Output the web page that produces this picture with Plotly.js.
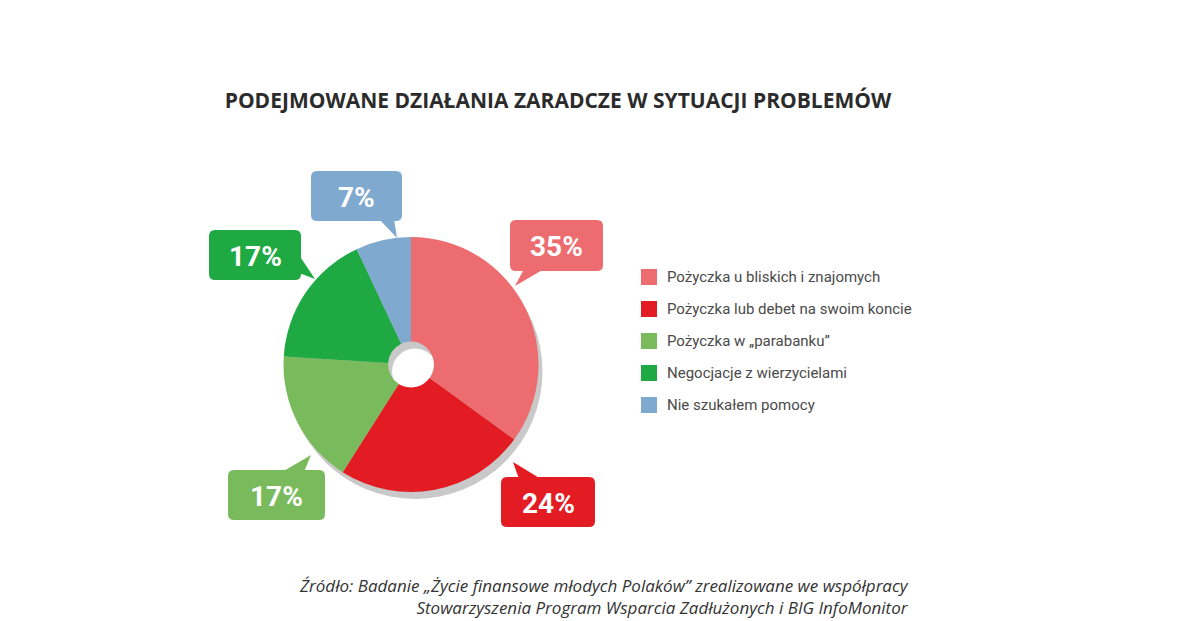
<!DOCTYPE html>
<html>
<head>
<meta charset="utf-8">
<script src="https://cdn.plot.ly/plotly-3.0.1.min.js"></script>
<style>
  html, body { margin: 0; padding: 0; background: #ffffff; }
  #chart { width: 1179px; height: 621px; }
</style>
</head>
<body>
<div id="chart"></div>
<script>
// ---- data ----
const categories = [
  "Pożyczka u bliskich i znajomych",
  "Pożyczka lub debet na swoim koncie",
  "Pożyczka w „parabanku”",
  "Negocjacje z wierzycielami",
  "Nie szukałem pomocy"
];
const shares = [35, 24, 17, 17, 7];
const titleText = "PODEJMOWANE DZIAŁANIA ZARADCZE W SYTUACJI PROBLEMÓW";
const sourceLines = [
  "Źródło: Badanie „Życie finansowe młodych Polaków” zrealizowane we współpracy",
  "Stowarzyszenia Program Wsparcia Zadłużonych i BIG InfoMonitor"
];

// ---- style ----
const colors = ["#ec6c6f", "#e31b23", "#79bb5c", "#1fa943", "#80a9d0"];
const W = 1179, H = 621;
const px = x => x / W;
const py = y => 1 - y / H;

// pie geometry (pixels)
const C = {x: 411, y: 364.5, r: 127.5, hole: 0.18};
const shadowOff = {dx: 4, dy: 7};
function dom(cx, cy, r) {
  return {x: [px(cx - r), px(cx + r)], y: [py(cy + r), py(cy - r)]};
}

// callout bubbles (pixel boxes + tails), one per slice
const bubbles = [
  {x0: 510, y0: 220, x1: 603, y1: 271, tail: [[524, 269], [544, 269], [515, 286]]},
  {x0: 501, y0: 477, x1: 595, y1: 527, tail: [[519, 479], [541, 479], [513, 462]]},
  {x0: 228, y0: 470, x1: 325, y1: 520, tail: [[282, 472], [304, 472], [311, 455]]},
  {x0: 209, y0: 230, x1: 301, y1: 280, tail: [[299, 255], [299, 273], [315, 279]]},
  {x0: 311, y0: 171, x1: 402, y1: 221, tail: [[379, 219], [394, 219], [397, 238]]}
];
const legendPos = {x: 641, y0: 277, dy: 32, box: 16, textX: 665};

function roundRect(b, rad) {
  const p = (x, y) => px(x) + "," + py(y);
  return "M" + p(b.x0 + rad, b.y0) +
    " L" + p(b.x1 - rad, b.y0) + " Q" + p(b.x1, b.y0) + " " + p(b.x1, b.y0 + rad) +
    " L" + p(b.x1, b.y1 - rad) + " Q" + p(b.x1, b.y1) + " " + p(b.x1 - rad, b.y1) +
    " L" + p(b.x0 + rad, b.y1) + " Q" + p(b.x0, b.y1) + " " + p(b.x0, b.y1 - rad) +
    " L" + p(b.x0, b.y0 + rad) + " Q" + p(b.x0, b.y0) + " " + p(b.x0 + rad, b.y0) + " Z";
}
function tri(t) {
  return "M" + t.map(q => px(q[0]) + "," + py(q[1])).join(" L") + " Z";
}

const traces = [
  {
    type: "pie",
    values: [1],
    labels: ["shadow"],
    hole: C.hole,
    sort: false,
    marker: {colors: ["#c9c9c9"], line: {width: 0}},
    textinfo: "none",
    hoverinfo: "skip",
    showlegend: false,
    domain: dom(C.x + shadowOff.dx, C.y + shadowOff.dy, C.r)
  },
  {
    type: "pie",
    values: shares,
    labels: categories,
    hole: C.hole,
    sort: false,
    direction: "clockwise",
    rotation: 0,
    marker: {colors: colors, line: {width: 0}},
    textinfo: "none",
    hoverinfo: "label+percent",
    showlegend: false,
    domain: dom(C.x, C.y, C.r)
  }
];

const shapes = [];
const annotations = [];
bubbles.forEach((b, i) => {
  shapes.push({type: "path", xref: "paper", yref: "paper", path: roundRect(b, 6),
    fillcolor: colors[i], line: {width: 0}, layer: "above"});
  shapes.push({type: "path", xref: "paper", yref: "paper", path: tri(b.tail),
    fillcolor: colors[i], line: {width: 0}, layer: "above"});
  annotations.push({xref: "paper", yref: "paper",
    x: px((b.x0 + b.x1) / 2), y: py((b.y0 + b.y1) / 2 + 1),
    xanchor: "center", yanchor: "middle", showarrow: false,
    text: "<b>" + shares[i] + "%</b>",
    font: {family: "Roboto, sans-serif", size: 28, color: "#ffffff"}});
});

categories.forEach((c, i) => {
  const cy = legendPos.y0 + i * legendPos.dy;
  shapes.push({type: "rect", xref: "paper", yref: "paper",
    x0: px(legendPos.x), x1: px(legendPos.x + legendPos.box),
    y0: py(cy + legendPos.box / 2), y1: py(cy - legendPos.box / 2),
    fillcolor: colors[i], line: {width: 0}});
  annotations.push({xref: "paper", yref: "paper", x: px(legendPos.textX), y: py(cy),
    xanchor: "left", yanchor: "middle", showarrow: false, text: c,
    font: {family: "Roboto, sans-serif", size: 15, color: "#4a4a4a"}});
});

annotations.push({xref: "paper", yref: "paper", x: px(911), y: py(621),
  xanchor: "right", yanchor: "bottom", align: "right", showarrow: false,
  text: "<i>" + sourceLines.join("<br>") + "</i>",
  font: {family: "Open Sans, sans-serif", size: 17, color: "#333333"}});

const layout = {
  width: W, height: H,
  margin: {l: 0, r: 0, t: 0, b: 0},
  paper_bgcolor: "#ffffff",
  plot_bgcolor: "#ffffff",
  showlegend: false,
  title: {
    text: "<b>" + titleText + "</b>",
    x: px(558), xanchor: "center",
    y: py(101), yanchor: "middle",
    font: {family: "Open Sans, sans-serif", size: 21, color: "#2b2b2b"}
  },
  shapes: shapes,
  annotations: annotations
};

Plotly.newPlot("chart", traces, layout, {displayModeBar: false, staticPlot: true});
</script>
</body>
</html>
